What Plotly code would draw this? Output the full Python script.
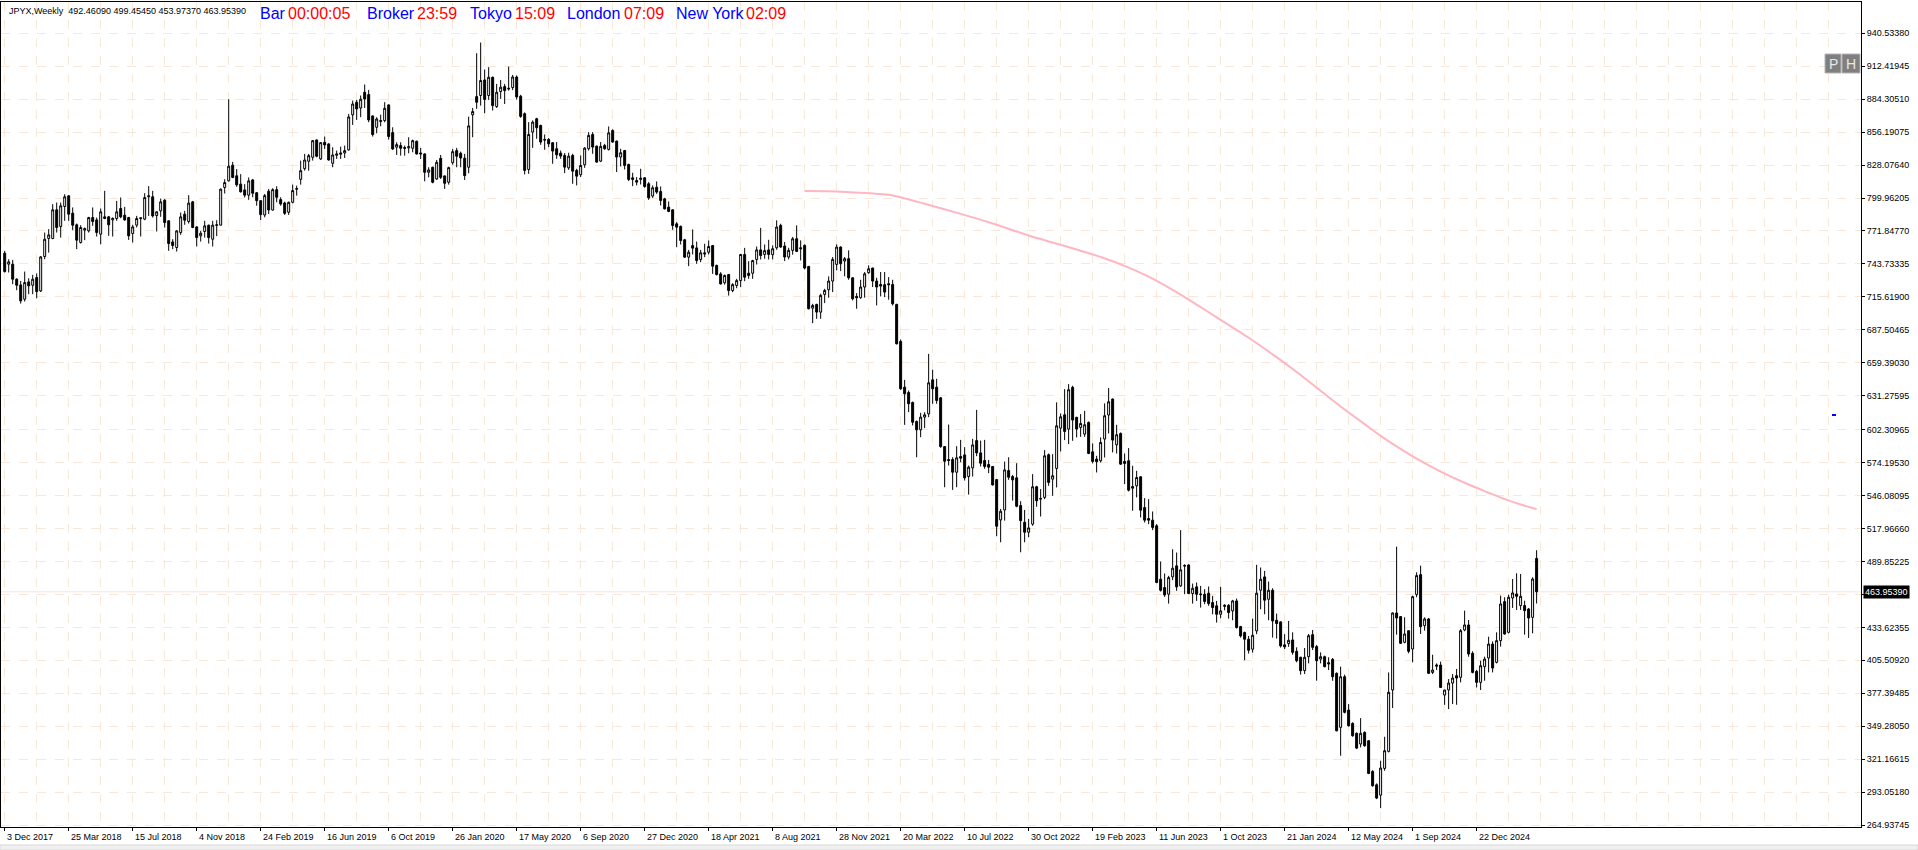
import pandas as pd
import plotly.graph_objects as go

# ---------------- data ----------------
symbol = "JPYX,Weekly"
first_week = "2017-12-03"

opens = [752.9,743.5,743.5,730.7,725.8,713.6,728.4,725.5,732.1,720.7,750.0,765.4,765.4,789.9,775.6,792.7,801.8,787.0,777.1,762.0,
772.5,771.9,783.3,781.3,769.1,783.9,783.9,781.3,782.5,791.0,785.3,783.3,769.7,776.8,782.4,781.9,801.0,801.0,785.0,789.0,
798.1,780.5,762.5,757.7,770.5,786.2,779.9,796.7,775.3,767.7,771.4,776.8,764.8,776.5,776.8,808.9,814.6,828.0,818.9,811.8,
806.9,802.4,815.4,804.5,797.7,785.5,805.7,789.7,807.1,798.6,795.7,787.8,796.3,807.4,815.9,825.0,831.3,834.7,849.5,833.3,
847.5,846.1,829.6,836.4,837.3,838.4,841.0,870.9,881.7,876.8,890.2,888.2,870.0,860.3,865.2,866.0,879.4,855.8,843.3,844.7,
843.0,842.7,842.4,848.4,838.4,837.6,821.9,826.2,816.2,833.8,818.8,813.4,830.1,840.4,838.1,833.9,826.2,870.9,886.5,887.4,
900.7,887.4,903.0,878.0,890.8,895.0,893.6,894.2,903.2,886.8,871.9,824.3,856.2,867.6,861.9,849.9,849.9,847.1,842.0,838.3,
836.3,825.7,836.3,823.5,819.8,828.3,842.0,854.2,844.2,831.4,844.8,841.4,857.6,848.5,834.9,840.5,828.6,817.2,814.9,815.8,
817.2,812.1,801.6,809.2,805.5,799.3,792.2,789.9,777.9,775.7,764.3,749.5,759.4,757.4,747.5,753.2,753.7,759.4,742.4,735.2,
727.6,734.7,721.0,725.3,729.5,751.8,735.8,735.8,747.5,755.7,751.8,755.7,751.6,757.5,776.6,759.0,749.6,755.3,765.2,757.5,
759.5,741.6,706.0,709.2,702.6,717.7,721.7,729.1,743.3,758.1,746.2,748.2,731.9,716.0,714.9,724.0,736.2,740.2,729.1,726.2,
726.0,726.8,726.2,709.2,677.6,638.6,634.0,625.5,609.3,602.2,613.0,615.8,644.8,638.6,629.5,587.9,576.8,576.8,566.0,579.4,
580.8,562.3,569.7,593.0,582.5,576.0,572.6,570.9,559.7,525.3,533.8,567.4,562.3,561.2,537.6,523.3,514.8,521.7,553.6,543.0,
544.5,580.9,560.1,569.2,603.6,615.0,602.8,638.4,612.8,604.2,598.5,608.5,583.4,577.2,575.8,594.3,614.8,628.4,589.4,599.1,
575.2,575.8,553.8,554.4,562.1,535.9,526.5,525.1,520.3,474.7,467.6,461.9,476.7,486.1,469.0,485.8,486.9,462.5,468.2,462.2,
461.9,462.8,454.8,452.0,444.8,452.5,452.5,447.7,456.2,434.3,429.2,423.5,415.0,430.6,465.3,476.7,457.6,465.3,439.7,438.3,
418.7,419.8,422.9,413.2,408.1,396.7,408.6,427.4,417.2,406.6,408.6,403.5,406.3,394.4,348.3,391.5,363.1,351.7,343.2,334.1,
344.0,336.9,310.7,299.3,290.5,313.3,327.8,380.2,445.9,442.8,420.9,430.8,415.2,461.6,478.6,435.1,440.8,395.2,400.4,401.5,
375.9,380.2,386.1,392.4,391.0,431.4,435.7,411.5,396.1,386.7,400.1,407.5,419.4,403.8,422.3,455.6,429.4,458.7,462.1,452.2,
452.2,449.3,442.2,492.4609]

highs = [754.9,747.7,747.2,731.5,729.2,737.2,731.5,734.4,735.5,750.5,770.5,773.4,794.7,796.1,796.1,803.2,802.5,791.9,778.2,776.8,
774.8,783.9,791.9,783.3,791.0,806.1,784.7,783.5,797.5,800.4,792.4,783.9,777.1,784.7,783.3,804.1,810.1,806.1,788.5,799.5,
799.0,781.0,764.8,772.5,787.6,789.0,802.4,797.5,775.9,771.9,780.5,777.2,780.5,781.0,808.1,816.0,884.3,830.8,824.6,820.3,
811.8,817.5,816.2,805.0,798.2,803.4,807.7,808.3,810.0,800.6,796.9,796.9,811.4,810.5,831.9,837.6,837.6,849.5,849.8,847.5,
852.4,846.7,843.3,840.4,843.8,844.7,871.7,883.1,883.7,887.4,896.8,892.2,870.3,868.9,871.1,881.7,879.9,860.3,847.5,847.5,
844.7,851.8,849.8,848.9,842.7,838.1,826.2,826.7,832.4,836.7,819.2,826.7,841.8,842.7,839.5,837.6,869.4,876.8,923.5,932.6,
909.6,911.6,903.6,897.3,900.7,897.3,912.1,905.0,904.5,888.0,873.0,864.7,866.2,868.4,862.5,854.2,851.1,847.7,847.7,840.5,
838.3,838.6,837.7,824.9,836.3,843.4,856.2,856.2,844.8,847.7,846.2,861.0,858.5,849.0,842.0,841.0,829.2,821.5,817.8,824.9,
817.8,813.5,810.7,814.1,809.8,800.1,797.0,790.4,779.4,776.5,765.1,755.7,773.1,762.8,755.7,760.9,763.7,759.9,743.2,736.7,
734.7,735.2,727.3,731.0,752.3,757.4,746.1,747.2,758.6,774.5,760.3,764.3,759.5,780.9,778.0,762.4,757.5,766.7,776.6,763.8,
760.4,742.0,709.7,709.7,718.3,722.5,733.1,749.6,760.4,758.7,749.6,755.3,732.3,718.8,730.2,736.8,742.5,740.5,731.9,736.8,
736.8,732.5,730.2,709.7,679.3,644.8,635.7,626.3,610.1,616.7,617.2,667.0,653.4,645.7,630.0,588.3,606.7,578.8,588.2,593.6,
587.4,571.7,594.5,619.2,593.0,593.6,576.5,571.3,560.2,534.7,575.1,578.8,563.7,573.7,541.3,533.8,526.2,564.4,554.4,551.6,
584.9,582.0,581.4,625.6,616.2,636.9,641.2,639.8,613.3,615.6,618.4,609.3,590.6,580.0,595.7,624.7,637.8,628.9,606.5,599.9,
582.0,586.6,571.5,567.2,562.5,543.9,543.0,532.5,521.7,489.8,479.6,477.6,500.3,497.5,516.6,487.5,487.3,471.0,471.9,469.0,
466.2,468.5,460.5,456.2,468.2,453.4,453.4,457.1,458.2,434.9,430.0,426.3,441.1,487.0,484.7,481.8,472.7,467.0,445.4,438.8,
427.8,439.1,429.4,416.6,408.6,416.0,428.0,431.4,418.6,412.3,409.5,408.1,407.5,395.2,400.1,393.3,368.2,352.6,344.0,356.2,
344.9,337.5,311.8,300.5,319.8,340.3,395.2,446.5,502.5,442.8,442.2,430.8,460.7,480.6,486.3,442.2,441.6,410.3,402.9,404.4,
380.2,389.5,393.8,398.1,432.2,447.9,439.9,413.2,397.2,405.2,408.6,425.7,421.7,429.4,460.7,459.3,461.6,474.9,479.8,479.2,
456.4,450.2,476.4,499.4545]

lows = [736.4,736.4,726.4,721.3,709.9,711.6,717.9,717.9,714.4,719.8,747.7,753.4,764.8,770.5,766.2,780.5,780.5,772.5,756.3,761.1,
764.0,770.5,776.2,767.1,760.5,781.9,767.7,767.1,780.5,782.7,780.5,764.2,762.0,774.8,767.1,781.0,784.7,783.3,771.4,783.9,
774.8,754.9,756.3,754.3,768.5,777.1,778.2,774.2,758.6,762.8,766.2,761.1,758.6,767.4,776.5,803.8,814.0,816.9,809.5,804.7,
800.4,798.4,800.6,793.4,781.2,783.5,786.3,789.2,796.3,793.4,785.5,785.5,795.4,802.0,811.4,823.3,823.3,831.9,834.7,832.4,
841.8,831.9,826.2,833.3,833.3,834.1,840.4,862.3,866.6,868.9,876.8,864.6,852.4,855.2,861.2,864.6,849.8,841.0,836.7,836.1,
836.1,838.1,839.0,837.0,833.3,814.2,817.6,812.5,815.4,816.2,807.7,811.4,828.4,826.2,826.2,815.4,821.1,851.8,876.0,878.8,
872.3,883.7,874.6,876.8,884.5,880.2,891.6,892.0,884.0,868.4,820.1,820.6,842.8,850.5,845.4,841.1,843.4,829.2,833.4,833.4,
821.2,824.0,812.1,810.7,817.8,825.7,840.5,837.7,830.0,830.6,841.1,840.5,847.1,822.1,826.9,824.3,814.4,810.1,810.7,811.5,
808.7,798.4,800.1,803.5,793.6,790.2,787.9,772.8,758.0,760.3,748.9,741.8,751.8,743.8,745.2,749.5,751.8,735.2,733.8,726.1,
726.1,716.7,719.6,723.0,723.9,729.0,731.0,731.0,743.2,747.5,748.1,747.5,747.6,755.8,757.5,746.2,747.6,751.6,753.8,746.7,
739.0,704.9,693.2,696.9,696.9,710.3,714.9,719.7,738.2,737.6,733.1,730.2,712.6,705.5,714.0,714.9,735.3,724.0,708.3,716.0,
715.4,713.2,708.3,675.0,636.3,606.4,617.2,605.9,578.8,595.9,603.6,613.0,624.4,624.4,586.8,553.2,571.7,550.9,553.2,574.5,
558.9,546.9,562.3,579.7,570.9,568.9,565.2,554.6,511.4,506.2,524.7,559.5,541.8,536.1,497.7,506.2,510.5,520.3,536.5,528.2,
543.0,554.4,545.9,553.0,583.7,593.4,590.0,592.8,595.7,596.2,596.2,581.4,573.5,565.8,574.3,578.6,599.1,582.9,582.0,572.3,
555.8,549.6,533.1,544.5,527.4,523.1,521.7,516.6,471.3,464.2,459.6,453.9,473.9,464.8,468.2,461.9,461.9,453.9,456.2,450.5,
453.4,452.0,444.8,437.7,441.4,448.2,441.1,439.7,432.6,424.9,405.6,411.3,412.1,427.8,449.1,444.8,439.7,424.9,424.1,416.4,
415.0,417.0,410.3,403.8,393.3,393.8,402.9,414.3,388.1,402.9,399.5,397.2,388.1,344.9,324.1,360.2,348.9,340.3,329.8,331.2,
331.8,308.4,297.6,287.1,279.4,311.3,326.9,364.8,427.4,419.4,420.0,411.5,403.8,459.3,428.0,430.8,393.8,393.8,397.2,381.9,
367.6,363.9,368.2,367.6,386.7,430.3,408.6,394.4,382.4,380.2,388.1,395.2,395.2,402.9,417.2,427.4,428.5,450.2,448.5,448.5,
427.4,424.6,428.5,453.9737]

closes = [737.2,745.5,730.7,725.5,712.2,727.8,725.0,730.7,720.1,749.7,764.8,768.5,789.9,774.8,793.3,801.0,786.2,776.8,764.0,774.8,
773.9,783.3,779.9,770.5,788.2,782.5,777.1,782.5,788.2,783.9,781.3,767.7,775.3,782.5,783.0,800.4,801.8,784.7,788.2,796.7,
779.0,761.1,759.4,771.9,783.9,781.0,795.6,774.8,766.2,769.9,776.2,766.2,776.8,777.1,807.5,813.2,827.1,817.5,811.2,805.2,
802.4,814.6,804.0,797.7,785.8,802.0,789.7,807.1,800.6,794.9,786.9,796.3,806.3,808.0,823.3,832.4,836.1,848.9,835.6,847.2,
845.2,832.4,836.7,837.6,838.4,840.4,869.1,880.2,876.0,884.2,884.5,866.6,854.1,867.4,866.0,876.5,852.4,841.8,845.5,842.4,
842.4,843.8,848.9,837.6,837.6,821.9,823.9,813.4,830.4,817.6,812.5,825.9,839.5,835.6,834.1,819.1,861.5,873.7,881.7,900.2,
884.0,903.0,878.8,890.2,894.5,891.6,893.1,903.2,886.2,869.6,823.5,854.2,864.7,859.9,847.7,849.4,846.2,840.0,836.8,835.7,
826.3,835.7,822.9,818.6,827.7,842.5,853.4,843.4,830.6,844.0,842.0,855.6,847.7,834.9,838.6,827.7,815.8,815.8,813.5,816.9,
809.8,800.1,808.7,805.0,797.9,790.7,788.5,776.5,775.1,763.7,749.5,753.7,757.2,746.6,753.2,752.3,758.6,741.8,734.7,726.7,
733.8,721.0,726.1,729.5,751.8,732.4,733.8,746.6,755.7,750.9,755.1,751.8,756.7,775.2,758.1,749.6,755.3,765.2,754.4,756.7,
740.2,705.5,708.3,702.6,716.9,721.1,729.1,747.6,758.1,743.9,748.2,731.9,714.0,714.9,724.0,735.3,739.6,729.1,724.0,724.8,
719.7,726.0,709.7,675.6,637.2,632.9,624.4,608.7,602.2,613.0,615.0,642.3,637.2,627.2,587.9,575.4,576.0,566.0,578.3,578.0,
561.2,570.3,589.3,582.5,573.7,570.9,570.3,555.2,519.9,532.7,568.0,561.7,559.5,537.0,524.7,514.8,518.5,553.6,541.6,543.6,
580.0,557.3,563.0,605.6,613.3,600.8,636.4,610.5,602.8,607.6,606.5,582.0,575.2,574.9,591.4,614.2,626.1,593.4,598.0,572.9,
573.5,550.7,552.4,561.5,533.6,525.1,525.1,518.9,471.9,465.3,461.3,476.1,484.1,468.2,482.7,486.4,462.5,467.0,461.9,461.6,
455.7,453.9,450.5,444.8,447.7,451.7,446.3,456.2,433.5,426.3,423.5,414.1,426.9,462.8,474.7,456.8,465.3,439.1,436.9,417.8,
417.0,422.6,412.3,405.2,396.7,408.1,426.5,416.6,405.2,408.6,400.1,402.4,391.5,345.4,391.5,361.1,349.7,341.2,330.6,343.2,
332.6,309.0,298.5,288.0,313.6,328.4,378.2,445.9,441.6,420.0,428.0,413.2,459.8,477.8,434.2,440.8,394.4,397.2,401.5,382.4,
380.2,386.1,390.4,390.4,430.8,435.7,410.9,395.2,386.7,400.9,406.6,419.4,398.9,422.3,453.6,428.0,459.3,463.0,460.1,460.1,
447.9,441.6,474.9,463.9539]

# 200-period moving average (pink), read at selected bars
ma_bar = [200, 208, 214, 222, 230, 239, 247, 256, 262, 268, 274, 280, 286, 292, 298, 304, 311, 317, 323, 329, 335,
          340, 344, 348, 353, 359, 366, 371, 375, 379, 383]
ma_val = [805.9, 805.6, 804.4, 802.2, 795.0, 786.4, 778.2, 768.0, 762.0, 756.0, 749.6, 742.0, 732.8, 721.5, 709.0,
          696.0, 680.7, 666.5, 651.5, 635.5, 619.5, 607.0, 597.0, 588.0, 577.5, 566.5, 555.5, 548.5, 543.0, 538.5, 534.5]

# axis labels
x_labels = ["3 Dec 2017", "25 Mar 2018", "15 Jul 2018", "4 Nov 2018", "24 Feb 2019", "16 Jun 2019", "6 Oct 2019",
            "26 Jan 2020", "17 May 2020", "6 Sep 2020", "27 Dec 2020", "18 Apr 2021", "8 Aug 2021", "28 Nov 2021",
            "20 Mar 2022", "10 Jul 2022", "30 Oct 2022", "19 Feb 2023", "11 Jun 2023", "1 Oct 2023", "21 Jan 2024",
            "12 May 2024", "1 Sep 2024", "22 Dec 2024"]
y_labels = ["940.53380", "912.41945", "884.30510", "856.19075", "828.07640", "799.96205", "771.84770", "743.73335",
            "715.61900", "687.50465", "659.39030", "631.27595", "602.30965", "574.19530", "546.08095", "517.96660",
            "489.85225", "461.73790", "433.62355", "405.50920", "377.39485", "349.28050", "321.16615", "293.05180",
            "264.93745"]

header_words = [("Bar", "00:00:05"), ("Broker", "23:59"), ("Tokyo", "15:09"), ("London", "07:09"), ("New York", "02:09")]

# ---------------- figure ----------------
W, H = 1918, 850
PL, PR, PT, PB = 1, 1861, 2, 827   # plot area in pixels
start = pd.Timestamp(first_week)
n = len(closes)
dates = [start + pd.Timedelta(weeks=i) for i in range(n)]
ma_dates = [dates[i] for i in ma_bar]
label_dates = [pd.to_datetime(s, format="%d %b %Y") for s in x_labels]
y_vals = [float(s) for s in y_labels]


def px2x(px):
    return (px - PL) / (PR - PL)


def px2y(py):
    return (PB - py) / (PB - PT)


FONT = "Liberation Sans, Arial, sans-serif"
GRID = "#f7e8da"

fig = go.Figure()
fig.add_trace(go.Candlestick(
    x=dates, open=opens, high=highs, low=lows, close=closes,
    increasing=dict(line=dict(color="black", width=1), fillcolor="white"),
    decreasing=dict(line=dict(color="black", width=1), fillcolor="black"),
    whiskerwidth=0, hoverinfo="skip", showlegend=False,
))
fig.add_trace(go.Scatter(
    x=ma_dates, y=ma_val, mode="lines", line=dict(color="#ffb6c1", width=2, shape="spline", smoothing=0.6),
    hoverinfo="skip", showlegend=False,
))

x_lo = start + pd.Timedelta(days=7 * -0.925)
x_hi = start + pd.Timedelta(days=7 * 464.1)

fig.update_layout(
    width=W, height=H,
    margin=dict(l=PL, r=W - PR, t=PT, b=H - PB, pad=0),
    paper_bgcolor="white", plot_bgcolor="white",
    font=dict(family=FONT, size=9, color="black"),
    xaxis=dict(
        type="date", range=[x_lo, x_hi], rangeslider=dict(visible=False),
        tickvals=label_dates, showticklabels=False, ticks="outside", ticklen=3, tickcolor="black",
        showgrid=True, gridcolor=GRID, griddash="dash", gridwidth=1,
        minor=dict(tick0=start, dtick=8 * 7 * 86400000, showgrid=True, gridcolor=GRID, griddash="dash", ticks=""),
        showline=True, linecolor="black", linewidth=1, mirror=True, zeroline=False,
    ),
    yaxis=dict(
        side="right", range=[263.3, 967.2], tickvals=y_vals, ticktext=y_labels,
        ticks="outside", ticklen=3, tickcolor="black",
        tickfont=dict(family=FONT, size=9, color="black"),
        showgrid=True, gridcolor=GRID, griddash="dash", gridwidth=1,
        showline=True, linecolor="black", linewidth=1, mirror=True, zeroline=False,
    ),
)

# current price line and label
last = closes[-1]
fig.add_shape(type="line", xref="paper", yref="y", x0=0, x1=1, y0=last, y1=last,
              line=dict(color="#f9e4d6", width=1), layer="below")
fig.add_annotation(xref="paper", yref="y", x=1, y=last, xanchor="left", yanchor="middle", xshift=2,
                   text=f"{last:.5f}", showarrow=False, bgcolor="black", borderpad=1,
                   font=dict(family=FONT, size=9, color="white"))

# date labels (left aligned at their tick)
for d, s in zip(label_dates, x_labels):
    fig.add_annotation(xref="x", yref="paper", x=d, y=px2y(836.5), xanchor="left", yanchor="middle",
                       text=s, showarrow=False, font=dict(family=FONT, size=9, color="black"))

# header
fig.add_annotation(xref="paper", yref="paper", x=px2x(7), y=px2y(11.5), xanchor="left", yanchor="middle",
                   text=f"{symbol}  {opens[-1]:.5f} {highs[-1]:.5f} {lows[-1]:.5f} {closes[-1]:.5f}",
                   showarrow=False, font=dict(family=FONT, size=9, color="black"))
word_px = [(258, 286), (365, 415), (468, 513), (565, 622), (674, 744)]
for (lab, tm), (xa, xb) in zip(header_words, word_px):
    fig.add_annotation(xref="paper", yref="paper", x=px2x(xa), y=px2y(13.5), xanchor="left", yanchor="middle",
                       text=lab, showarrow=False, font=dict(family=FONT, size=16, color="#0000ff"))
    fig.add_annotation(xref="paper", yref="paper", x=px2x(xb), y=px2y(13.5), xanchor="left", yanchor="middle",
                       text=tm, showarrow=False, font=dict(family=FONT, size=16, color="#ff0000"))

# P / H buttons
for (xa, xb), t in [((1825, 1841), "P"), ((1842, 1860), "H")]:
    fig.add_shape(type="rect", xref="paper", yref="paper", x0=px2x(xa), x1=px2x(xb), y0=px2y(73), y1=px2y(54),
                  fillcolor="#7f7f7f", line=dict(color="#b5b5b5", width=1), layer="above")
    fig.add_annotation(xref="paper", yref="paper", x=px2x((xa + xb) / 2), y=px2y(63.5), xanchor="center",
                       yanchor="middle", text=t, showarrow=False,
                       font=dict(family=FONT, size=14, color="#e8e8e8"))

# small blue marker
fig.add_shape(type="line", xref="paper", yref="paper", x0=px2x(1832), x1=px2x(1836), y0=px2y(415), y1=px2y(415),
              line=dict(color="#0000ff", width=2))

# bottom status strip
fig.add_shape(type="rect", xref="paper", yref="paper", x0=px2x(0), x1=px2x(1918), y0=px2y(850), y1=px2y(845),
              fillcolor="#f0f0f0", line=dict(color="#d8d8d8", width=1), layer="below")

fig.write_html("out.html", config={"displayModeBar": False},
               post_script="document.body.style.margin='0px';document.body.style.overflow='hidden';")
